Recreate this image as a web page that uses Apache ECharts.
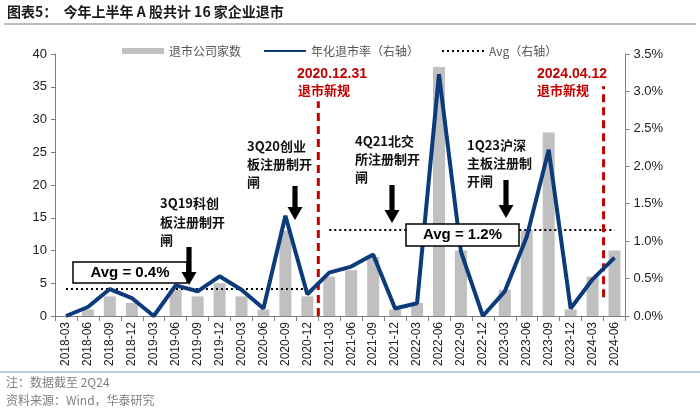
<!DOCTYPE html>
<html>
<head>
<meta charset="utf-8">
<script src="https://cdn.jsdelivr.net/npm/echarts@6/dist/echarts.min.js"></script>
<style>html,body{margin:0;padding:0;background:#fff}#c{width:700px;height:413px}</style>
</head>
<body>
<div id="c"></div>
<script>
// ---- data ----
const categories = ['2018-03','2018-06','2018-09','2018-12','2019-03','2019-06','2019-09','2019-12','2020-03','2020-06','2020-09','2020-12','2021-03','2021-06','2021-09','2021-12','2022-03','2022-06','2022-09','2022-12','2023-03','2023-06','2023-09','2023-12','2024-03','2024-06'];
const delistCount = [0,1,3,2,0,4,3,5,3,1,13,3,6,7,9,1,2,38,10,0,4,13,28,1,6,10];
const annualRate = [0,0.12,0.36,0.24,0,0.41,0.33,0.53,0.35,0.10,1.34,0.29,0.58,0.66,0.82,0.10,0.17,3.23,0.86,0,0.33,1.06,2.22,0.10,0.49,0.78];
const avgPeriods = [
  {from:'2018-03', to:'2020-12', value:0.36, label:'Avg = 0.4%'},
  {from:'2021-03', to:'2024-06', value:1.15, label:'Avg = 1.2%'}
];
// policy lines: position on category boundary (index units), y-range on right axis (%)
const policyLines = [
  {date:'2020.12.31', boundary:12, low:0, high:2.87},
  {date:'2024.04.12', boundary:25, low:0.25, high:3.07}
];
const leftTicks = {min:0, max:40, interval:5};
const rightTicks = {min:0, max:3.5, interval:0.5};
const seriesNames = ['退市公司家数','年化退市率（右轴）','Avg（右轴）'];

// ---- chart ----
const chart = echarts.init(document.getElementById('c'), null, {renderer:'canvas'});
const FONT = '"Liberation Sans", Arial, "Noto Sans CJK SC", sans-serif';
const CJK = '"Noto Sans CJK SC", "Liberation Sans", sans-serif';

function avgData(p){
  const i0 = categories.indexOf(p.from), i1 = categories.indexOf(p.to);
  return categories.map((c,i)=> (i>=i0 && i<=i1) ? p.value : null);
}

const series = [
  {name:seriesNames[0], type:'bar', data:delistCount, barWidth:12, itemStyle:{color:'#c0c0c0'}, z:1},
  {name:seriesNames[1], type:'line', yAxisIndex:1, data:annualRate, symbol:'none',
   lineStyle:{color:'#0c3b7c', width:4}, itemStyle:{color:'#0c3b7c'}, z:5}
];
avgPeriods.forEach(p=>{
  series.push({name:seriesNames[2], type:'line', yAxisIndex:1, data:avgData(p), symbol:'none',
    lineStyle:{color:'#000', width:2, type:[2,3]}, itemStyle:{color:'#000'}, z:3});
});
policyLines.forEach(p=>{
  series.push({name:'policy '+p.date, type:'line', xAxisIndex:1, yAxisIndex:1,
    data:[[p.boundary,p.low],[p.boundary,p.high]], symbol:'none', silent:true,
    lineStyle:{color:'#c00000', width:3, type:[8,5]}, z:4});
});

const graphics = [
  {type:'text', left:7, top:5, style:{text:'图表5：  今年上半年 A 股共计 16 家企业退市', font:'bold 14px '+CJK, fill:'#1a1a1a'}},
  {type:'line', shape:{x1:4,y1:24,x2:696,y2:24}, style:{stroke:'#a6a6a6', lineWidth:1.5}},
  {type:'line', shape:{x1:0,y1:372,x2:700,y2:372}, style:{stroke:'#7f9bbf', lineWidth:1.2}},
  {type:'text', left:6, top:376, style:{text:'注：数据截至 2Q24', font:'12px '+CJK, fill:'#808080'}},
  {type:'text', left:6, top:394, style:{text:'资料来源：Wind，华泰研究', font:'12px '+CJK, fill:'#808080'}},
  // policy labels
  {type:'text', left:297, top:67, style:{text:policyLines[0].date, font:'bold 14px '+FONT, fill:'#c00000'}},
  {type:'text', left:298, top:84, style:{text:'退市新规', font:'bold 13px '+CJK, fill:'#c00000'}},
  {type:'text', left:537, top:67, style:{text:policyLines[1].date, font:'bold 14px '+FONT, fill:'#c00000'}},
  {type:'text', left:537, top:84, style:{text:'退市新规', font:'bold 13px '+CJK, fill:'#c00000'}},
  // annotations
  {type:'text', left:160, top:194, style:{text:'3Q19科创\n板注册制开\n闸', font:'bold 13px '+CJK, fill:'#111', lineHeight:18.5}},
  {type:'text', left:247, top:137, style:{text:'3Q20创业\n板注册制开\n闸', font:'bold 13px '+CJK, fill:'#111', lineHeight:18}},
  {type:'text', left:355, top:132, style:{text:'4Q21北交\n所注册制开\n闸', font:'bold 13px '+CJK, fill:'#111', lineHeight:18}},
  {type:'text', left:467, top:136, style:{text:'1Q23沪深\n主板注册制\n开闸', font:'bold 13px '+CJK, fill:'#111', lineHeight:18}},
  // avg boxes
  {type:'rect', shape:{x:73,y:262,width:114,height:21}, style:{fill:'#fff', stroke:'#000', lineWidth:1.5}, z:10},
  {type:'text', x:130, y:272.5, style:{text:avgPeriods[0].label, font:'bold 15px '+FONT, fill:'#000', align:'center', verticalAlign:'middle'}, z:11},
  {type:'rect', shape:{x:406,y:224,width:113,height:22}, style:{fill:'#fff', stroke:'#000', lineWidth:1.5}, z:10},
  {type:'text', x:462.5, y:235, style:{text:avgPeriods[1].label, font:'bold 15px '+FONT, fill:'#000', align:'center', verticalAlign:'middle'}, z:11}
];
function arrow(cx, top, tip){
  const hh = 13, sw = 2.6, hw = 7.5;
  return {type:'polygon', shape:{points:[[cx-sw,top],[cx+sw,top],[cx+sw,tip-hh],[cx+hw,tip-hh],[cx,tip],[cx-hw,tip-hh],[cx-sw,tip-hh]]}, style:{fill:'#000'}, z:10};
}
graphics.push(arrow(189,247,285), arrow(295,186,220), arrow(392,185,223), arrow(506,180,218));

chart.setOption({
  animation:false,
  textStyle:{fontFamily:FONT},
  grid:{left:55, right:74.5, top:54, bottom:97},
  legend:{
    data:[
      {name:seriesNames[0], icon:'rect'},
      {name:seriesNames[1], itemStyle:{opacity:0}},
      {name:seriesNames[2], itemStyle:{opacity:0}}
    ],
    left:117, top:40, itemWidth:42, itemHeight:6, itemGap:22,
    textStyle:{fontFamily:CJK, fontSize:12, color:'#555'}
  },
  xAxis:[
    {type:'category', data:categories, boundaryGap:true,
     axisLine:{lineStyle:{color:'#808080', width:1}},
     axisTick:{show:true, length:5, lineStyle:{color:'#808080'}},
     axisLabel:{rotate:90, fontSize:12, color:'#222', margin:6, interval:0, fontFamily:FONT}},
    {type:'value', min:0, max:categories.length, show:false}
  ],
  yAxis:[
    {type:'value', min:leftTicks.min, max:leftTicks.max, interval:leftTicks.interval,
     splitLine:{show:false},
     axisLine:{show:true, lineStyle:{color:'#808080'}},
     axisTick:{show:true, length:4, lineStyle:{color:'#808080'}},
     axisLabel:{fontSize:13, color:'#222', margin:8, fontFamily:FONT}},
    {type:'value', min:rightTicks.min, max:rightTicks.max, interval:rightTicks.interval,
     splitLine:{show:false},
     axisLine:{show:true, lineStyle:{color:'#808080'}},
     axisTick:{show:true, length:4, lineStyle:{color:'#808080'}},
     axisLabel:{fontSize:13, color:'#222', margin:8, fontFamily:FONT, formatter:v=>v.toFixed(1)+'%'}}
  ],
  series:series,
  graphic:graphics
});
</script>
</body>
</html>
